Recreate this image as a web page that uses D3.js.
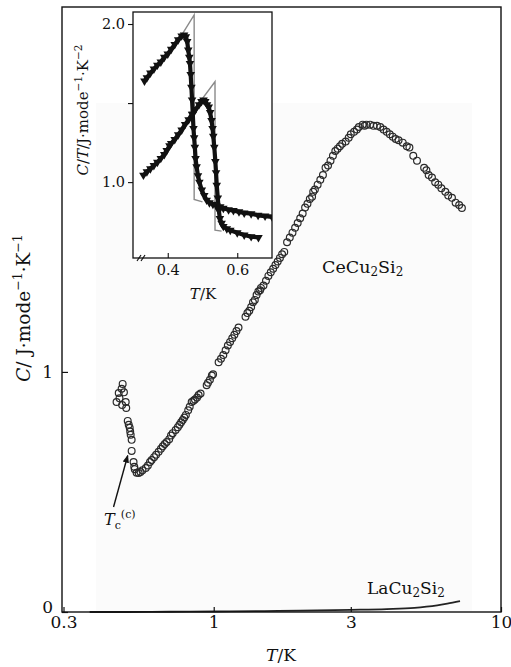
<!DOCTYPE html>
<html><head><meta charset="utf-8">
<script src="https://cdn.jsdelivr.net/npm/d3@7"></script>
<style>body{margin:0;background:#fff}</style>
</head><body>
<svg id="c" width="511" height="667"></svg>
<script>
// ---- main panel data: CeCu2Si2 (T in K, C in J/mol K)
const ceT = [0.482,0.478,0.467,0.487,0.459,0.470,0.494,0.496,0.480,0.502,0.506,0.510,0.512,0.514,0.518,0.518,0.526,0.529,0.531,0.539,0.548,0.556,
0.565,0.580,0.590,0.600,0.608,0.620,0.630,0.643,0.655,0.665,0.675,0.686,0.700,0.710,0.720,0.737,0.750,0.760,0.770,0.780,0.790,0.800,0.815,0.825,0.838,0.850,0.860,0.875,0.886,0.900,0.945,0.955,0.970,0.985,0.995,
1.04,1.06,1.08,1.10,1.12,1.14,1.16,1.18,1.20,1.22,
1.29,1.31,1.33,1.35,1.37,1.39,1.41,1.43,1.45,1.46,
1.49,1.52,1.55,1.58,1.61,1.64,1.67,1.70,1.73,1.76,
1.80,1.84,1.88,1.92,1.96,2.00,2.04,2.08,2.12,2.16,
2.20,2.22,2.25,2.30,2.35,2.40,2.45,2.50,2.55,2.60,2.65,2.70,2.75,2.80,2.88,2.95,3.00,3.08,3.15,3.20,3.30,3.35,3.40,3.50,3.60,3.70,3.80,3.90,4.00,4.10,4.20,4.30,4.40,4.55,4.70,4.80,4.95,5.10,
5.40,5.50,5.60,5.75,5.90,6.05,6.20,6.40,6.55,6.75,6.95,7.15,7.31];
const ceC = [0.950,0.930,0.912,0.915,0.875,0.890,0.875,0.850,0.862,0.796,0.780,0.767,0.752,0.738,0.717,0.671,0.625,0.605,0.595,0.580,0.579,0.583,
0.590,0.600,0.610,0.625,0.633,0.645,0.655,0.667,0.680,0.690,0.700,0.708,0.720,0.735,0.745,0.758,0.770,0.780,0.790,0.800,0.810,0.821,0.840,0.855,0.875,0.880,0.885,0.893,0.904,0.910,0.945,0.955,0.967,0.985,0.990,
1.040,1.055,1.070,1.090,1.110,1.125,1.140,1.155,1.170,1.185,
1.230,1.245,1.255,1.270,1.290,1.300,1.320,1.335,1.340,1.350,
1.360,1.380,1.400,1.415,1.430,1.445,1.460,1.475,1.490,1.500,
1.540,1.560,1.580,1.600,1.620,1.640,1.660,1.685,1.700,1.720,
1.730,1.750,1.760,1.780,1.800,1.820,1.850,1.860,1.880,1.900,1.920,1.930,1.940,1.950,1.960,1.975,1.990,2.000,2.010,2.020,2.030,2.025,2.030,2.030,2.025,2.025,2.020,2.010,2.000,1.990,1.980,1.970,1.965,1.955,1.940,1.935,1.900,1.880,
1.850,1.840,1.820,1.810,1.790,1.780,1.765,1.750,1.735,1.725,1.705,1.695,1.683];
// LaCu2Si2 (line)
const laT = [0.37,0.5,0.7,1.0,1.5,2.0,3.0,4.0,5.0,5.5,6.0,6.5,7.2];
const laC = [0.0,0.0,0.001,0.002,0.004,0.006,0.009,0.012,0.017,0.022,0.028,0.035,0.045];
const xTicks = [0.3,1,3,10];
const yTicks = [0,1];

// ---- inset data: C/T vs T
const inAT = [0.333,0.340,0.350,0.360,0.370,0.380,0.390,0.400,0.410,0.420,0.430,0.440,0.447,0.452,0.456,0.459,0.462,0.464,0.466,0.468,0.470,0.472,0.474,0.476,0.478,0.480,0.483,0.487,0.491,0.498,0.505,0.512,0.520,0.530,0.540,0.551,0.560,0.575,0.589,0.605,0.620,0.640,0.660,0.680,0.700];
const inAV = [1.640,1.660,1.690,1.715,1.740,1.760,1.790,1.810,1.840,1.870,1.900,1.925,1.930,1.920,1.890,1.835,1.790,1.750,1.680,1.600,1.520,1.430,1.340,1.280,1.220,1.150,1.097,1.040,1.000,0.950,0.915,0.886,0.870,0.860,0.850,0.844,0.835,0.825,0.820,0.812,0.805,0.800,0.790,0.785,0.780];
const inBT = [0.330,0.340,0.350,0.360,0.370,0.380,0.390,0.397,0.405,0.410,0.420,0.430,0.440,0.450,0.460,0.470,0.480,0.490,0.497,0.503,0.508,0.513,0.518,0.522,0.526,0.529,0.531,0.534,0.537,0.539,0.541,0.544,0.547,0.550,0.555,0.560,0.570,0.580,0.600,0.620,0.640,0.661];
const inBV = [1.044,1.065,1.085,1.105,1.125,1.150,1.175,1.200,1.230,1.245,1.270,1.300,1.330,1.365,1.395,1.430,1.460,1.490,1.510,1.519,1.510,1.490,1.475,1.440,1.390,1.340,1.290,1.220,1.130,1.060,0.980,0.900,0.820,0.770,0.740,0.720,0.705,0.695,0.680,0.665,0.655,0.650];
// idealized entropy-conserving construction (grey)
const idAT = [0.440,0.476,0.476,0.500];
const idAV = [1.930,2.057,0.890,0.875];
const idBT = [0.490,0.536,0.536,0.555];
const idBV = [1.500,1.635,0.696,0.690];
const inXTicks = [0.4,0.6];
const inYTicks = [1.0,1.5,2.0];
const inYTickLabels = ["1.0","","2.0"];

const svg = d3.select("#c");
const FONT = "DejaVu Serif";
const L=62, R=501, T0=7, B=612;
const x = d3.scaleLog().domain([0.3,10]).range([63.5,501]);
const y = d3.scaleLinear().domain([0,2.52]).range([612,7]);

// faint scan background
svg.append("rect").attr("x",96).attr("y",103).attr("width",376).attr("height",508).attr("fill","#fbfbfb");

// LaCu2Si2 line
svg.append("path").datum(laT.map((t,i)=>[t,laC[i]]))
  .attr("d", d3.line().x(d=>x(d[0])).y(d=>y(d[1])).curve(d3.curveMonotoneX))
  .attr("fill","none").attr("stroke","#222").attr("stroke-width",1.8);

// CeCu2Si2 circles
svg.append("g").selectAll("circle").data(ceT.map((t,i)=>[t,ceC[i]])).join("circle")
  .attr("cx",d=>x(d[0])).attr("cy",d=>y(d[1])).attr("r",3.4)
  .attr("fill","none").attr("stroke","#2a2a2a").attr("stroke-width",1.2);

// frame
svg.append("rect").attr("x",L).attr("y",T0).attr("width",R-L).attr("height",B-T0)
  .attr("fill","none").attr("stroke","#111").attr("stroke-width",1.4);

// axes
const gx = svg.append("g").attr("transform",`translate(0,${B})`)
  .call(d3.axisBottom(x).tickValues(xTicks).tickFormat(d=>String(d)).tickSizeInner(-5).tickSizeOuter(0).tickPadding(4));
const gy = svg.append("g").attr("transform",`translate(${L},0)`)
  .call(d3.axisLeft(y).tickValues(yTicks).tickFormat(d=>String(d)).tickSizeInner(-6).tickSizeOuter(0).tickPadding(9));
[gx,gy].forEach(g=>{g.select(".domain").remove();
  g.selectAll("text").attr("font-family",FONT).attr("font-size",17).attr("fill","#111");
  g.selectAll("line").attr("stroke","#111").attr("stroke-width",1.2);});
gy.selectAll(".tick").filter(d=>d===0).select("text").attr("dy","0.05em");

// axis titles
svg.append("text").attr("x",281).attr("y",661).attr("text-anchor","middle")
  .attr("font-family",FONT).attr("font-size",17).attr("fill","#111")
  .html('<tspan font-style="italic">T</tspan>/K');
svg.append("text").attr("transform","translate(30,308) rotate(-90)").attr("text-anchor","middle")
  .attr("font-family",FONT).attr("font-size",18.5).attr("fill","#111")
  .html('<tspan font-style="italic">C</tspan>/ J·mode<tspan font-size="12.5" dy="-8">−1</tspan><tspan dy="8">·K</tspan><tspan font-size="12.5" dy="-8">−1</tspan>');

// compound labels
svg.append("text").attr("x",322).attr("y",273).attr("font-family",FONT).attr("font-size",17.5).attr("fill","#111")
  .html('CeCu<tspan font-size="12" dy="3">2</tspan><tspan dy="-3">Si</tspan><tspan font-size="12" dy="3">2</tspan>');
svg.append("text").attr("x",367).attr("y",594).attr("font-family",FONT).attr("font-size",17).attr("fill","#111")
  .html('LaCu<tspan font-size="12" dy="3">2</tspan><tspan dy="-3">Si</tspan><tspan font-size="12" dy="3">2</tspan>');

// Tc arrow
svg.append("defs").append("marker").attr("id","ah").attr("viewBox","0 0 10 10")
  .attr("refX",9).attr("refY",5).attr("markerWidth",8).attr("markerHeight",8).attr("orient","auto-start-reverse")
  .attr("markerUnits","userSpaceOnUse")
  .append("path").attr("d","M0,1 L10,5 L0,9 Z").attr("fill","#111");
svg.append("line").attr("x1",x(0.448)).attr("y1",y(0.4375)).attr("x2",x(0.502)).attr("y2",y(0.652))
  .attr("stroke","#111").attr("stroke-width",1.4).attr("marker-end","url(#ah)");
svg.append("text").attr("x",104).attr("y",525).attr("font-family",FONT).attr("font-size",16).attr("fill","#111")
  .html('<tspan font-style="italic">T</tspan><tspan font-size="11" dy="4">c</tspan><tspan font-size="11" dy="-11">(c)</tspan>');

// ---- inset
const IL=133, IR=272, IT=12, IB=258;
const ix = d3.scaleLinear().domain([0.3,0.7]).range([IL,IR]);
const iy = d3.scaleLinear().domain([0.52,2.076]).range([IB,IT]);
svg.append("rect").attr("x",IL).attr("y",IT).attr("width",IR-IL).attr("height",IB-IT).attr("fill","#fff");
const ig = svg.append("g");
ig.append("defs").append("clipPath").attr("id","ic").append("rect").attr("x",IL).attr("y",IT).attr("width",IR-IL).attr("height",IB-IT);
const body = ig.append("g").attr("clip-path","url(#ic)");
[[idAT,idAV],[idBT,idBV]].forEach(([ts,vs])=>{
  body.append("path").datum(ts.map((t,i)=>[t,vs[i]]))
    .attr("d", d3.line().x(d=>ix(d[0])).y(d=>iy(d[1])))
    .attr("fill","none").attr("stroke","#8a8a8a").attr("stroke-width",1.4);
});
const tri = d3.symbol(d3.symbolTriangle).size(32)();
[[inAT,inAV],[inBT,inBV]].forEach(([ts,vs])=>{
  const pts = ts.map((t,i)=>[t,vs[i]]);
  body.append("path").datum(pts)
    .attr("d", d3.line().x(d=>ix(d[0])).y(d=>iy(d[1])))
    .attr("fill","none").attr("stroke","#111").attr("stroke-width",4.2).attr("stroke-linejoin","round");
  body.append("g").selectAll("path").data(pts).join("path")
    .attr("d",tri).attr("transform",d=>`translate(${ix(d[0])},${iy(d[1])}) rotate(180)`)
    .attr("fill","#111");
});
ig.append("rect").attr("x",IL).attr("y",IT).attr("width",IR-IL).attr("height",IB-IT)
  .attr("fill","none").attr("stroke","#111").attr("stroke-width",1.3);
const igx = ig.append("g").attr("transform",`translate(0,${IB})`)
  .call(d3.axisBottom(ix).tickValues(inXTicks).tickFormat(d3.format(".1f")).tickSizeInner(-5).tickSizeOuter(0).tickPadding(7));
const igy = ig.append("g").attr("transform",`translate(${IL},0)`)
  .call(d3.axisLeft(iy).tickValues(inYTicks).tickFormat((d,i)=>inYTickLabels[i]).tickSizeInner(5).tickSizeOuter(0).tickPadding(3));
[igx,igy].forEach(g=>{g.select(".domain").remove();
  g.selectAll("text").attr("font-family",FONT).attr("font-size",14.5).attr("fill","#111");
  g.selectAll("line").attr("stroke","#111").attr("stroke-width",1.1);});
// axis break marks
[0,4].forEach(o=>{
  ig.append("line").attr("x1",IL+4+o).attr("y1",IB+3).attr("x2",IL+8+o).attr("y2",IB-3)
    .attr("stroke","#111").attr("stroke-width",1.2);
});
ig.append("text").attr("x",203).attr("y",299).attr("text-anchor","middle")
  .attr("font-family",FONT).attr("font-size",15).attr("fill","#111")
  .html('<tspan font-style="italic">T</tspan>/K');
ig.append("text").attr("transform","translate(88,110) rotate(-90)").attr("text-anchor","middle")
  .attr("font-family",FONT).attr("font-size",15).attr("fill","#111")
  .html('<tspan font-style="italic">C</tspan>/<tspan font-style="italic">T</tspan>/J·mode<tspan font-size="10.5" dy="-6">−1</tspan><tspan dy="6">·K</tspan><tspan font-size="10.5" dy="-6">−2</tspan>');
</script>
</body></html>
